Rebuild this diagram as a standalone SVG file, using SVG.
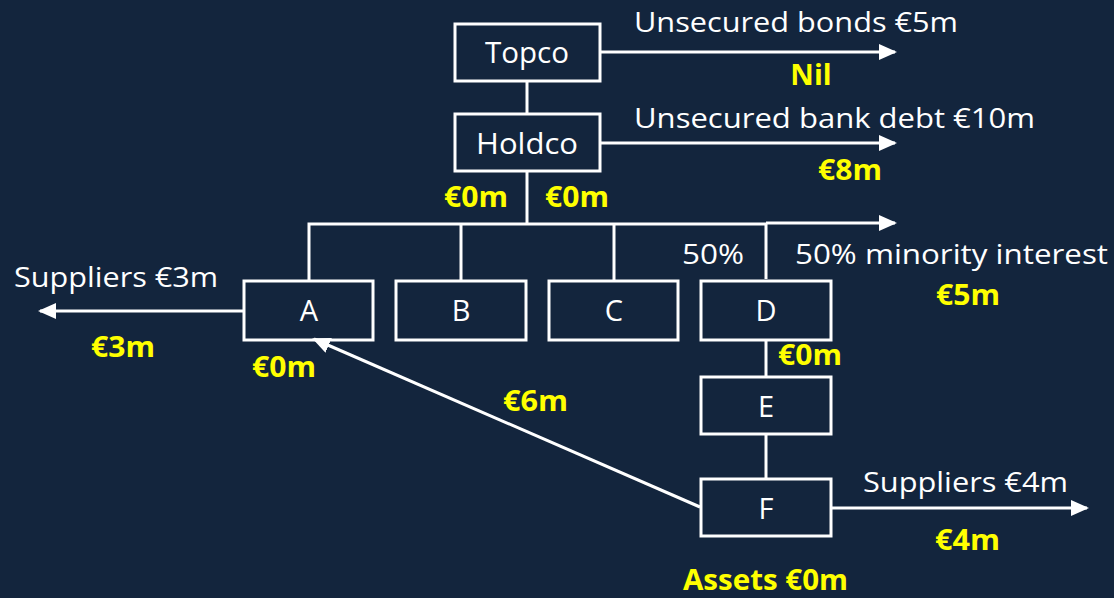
<svg xmlns="http://www.w3.org/2000/svg" width="1114" height="598" viewBox="0 0 1114 598">
  <style>
    .box { fill: none; stroke: #ffffff; stroke-width: 3; }
    .ln { fill: none; stroke: #ffffff; stroke-width: 3; }
    .t { font-family: "Open Sans", "Noto Sans", sans-serif; font-size: 28px; fill: #ffffff; }
    .n { font-family: "Open Sans", "Noto Sans", sans-serif; font-size: 29px; fill: #ffffff; text-anchor: middle; }
    .c { text-anchor: middle; }
    .y { font-family: "Open Sans", "Noto Sans", sans-serif; font-size: 29px; font-weight: bold; fill: #ffff00; }
  </style>
  <defs>
    <marker id="arrow" markerUnits="userSpaceOnUse" markerWidth="18" markerHeight="16" refX="16" refY="8" orient="auto">
      <path d="M0,0 L18,8 L0,16 Z" fill="#ffffff"/>
    </marker>
  </defs>
  <rect width="1114" height="598" fill="#13253d"/>

  <!-- connectors -->
  <g id="connectors">
    <line class="ln" x1="527" y1="81" x2="527" y2="114"/>
    <line class="ln" x1="527" y1="171" x2="527" y2="224"/>
    <path class="ln" d="M309,281 V224 H766 V279"/>
    <line class="ln" x1="461" y1="224" x2="461" y2="281"/>
    <line class="ln" x1="614" y1="224" x2="614" y2="281"/>
    <line class="ln" x1="766" y1="223" x2="895" y2="223" marker-end="url(#arrow)"/>
    <line class="ln" x1="766" y1="340" x2="766" y2="377"/>
    <line class="ln" x1="766" y1="434" x2="766" y2="479"/>
    <line class="ln" x1="601" y1="52" x2="895" y2="52" marker-end="url(#arrow)"/>
    <line class="ln" x1="601" y1="143" x2="895" y2="143" marker-end="url(#arrow)"/>
    <line class="ln" x1="244" y1="311" x2="40" y2="311" marker-end="url(#arrow)"/>
    <line class="ln" x1="832" y1="508" x2="1087" y2="508" marker-end="url(#arrow)"/>
    <line class="ln" x1="700" y1="507" x2="314" y2="339" marker-end="url(#arrow)"/>
  </g>

  <g id="topco">
    <rect class="box" x="455" y="24" width="145" height="57"/>
    <text class="n" x="527" y="63" textLength="84" lengthAdjust="spacingAndGlyphs">Topco</text>
  </g>
  <g id="holdco">
    <rect class="box" x="455" y="114" width="145" height="57"/>
    <text class="n" x="527" y="154" textLength="102" lengthAdjust="spacingAndGlyphs">Holdco</text>
  </g>
  <g id="a">
    <rect class="box" x="244" y="281" width="129" height="59"/>
    <text class="n" x="309" y="321">A</text>
  </g>
  <g id="b">
    <rect class="box" x="396" y="281" width="130" height="59"/>
    <text class="n" x="461" y="321">B</text>
  </g>
  <g id="c">
    <rect class="box" x="549" y="281" width="129" height="59"/>
    <text class="n" x="614" y="321">C</text>
  </g>
  <g id="d">
    <rect class="box" x="701" y="281" width="130" height="59"/>
    <text class="n" x="766" y="321">D</text>
  </g>
  <g id="e">
    <rect class="box" x="701" y="377" width="130" height="57"/>
    <text class="n" x="766" y="417">E</text>
  </g>
  <g id="f">
    <rect class="box" x="701" y="479" width="130" height="57"/>
    <text class="n" x="766" y="519">F</text>
  </g>

  <g id="labels">
    <text class="t" x="634" y="32" textLength="324" lengthAdjust="spacingAndGlyphs">Unsecured bonds €5m</text>
    <text class="y c" x="811" y="85">Nil</text>
    <text class="t" x="634" y="128" textLength="401" lengthAdjust="spacingAndGlyphs">Unsecured bank debt €10m</text>
    <text class="y" x="818" y="180" textLength="64" lengthAdjust="spacingAndGlyphs">€8m</text>
    <text class="y" x="444" y="207" textLength="64" lengthAdjust="spacingAndGlyphs">€0m</text>
    <text class="y" x="545" y="207" textLength="64" lengthAdjust="spacingAndGlyphs">€0m</text>
    <text class="t" x="14" y="287" textLength="204" lengthAdjust="spacingAndGlyphs">Suppliers €3m</text>
    <text class="y" x="91" y="357" textLength="64" lengthAdjust="spacingAndGlyphs">€3m</text>
    <text class="y" x="252" y="377" textLength="64" lengthAdjust="spacingAndGlyphs">€0m</text>
    <text class="t" x="682" y="264" textLength="62" lengthAdjust="spacingAndGlyphs">50%</text>
    <text class="t" x="795" y="264" textLength="313" lengthAdjust="spacingAndGlyphs">50% minority interest</text>
    <text class="y" x="936" y="305" textLength="64" lengthAdjust="spacingAndGlyphs">€5m</text>
    <text class="y" x="778" y="365" textLength="64" lengthAdjust="spacingAndGlyphs">€0m</text>
    <text class="y" x="503" y="411" textLength="65" lengthAdjust="spacingAndGlyphs">€6m</text>
    <text class="t" x="863" y="492" textLength="205" lengthAdjust="spacingAndGlyphs">Suppliers €4m</text>
    <text class="y" x="935" y="550" textLength="65" lengthAdjust="spacingAndGlyphs">€4m</text>
    <text class="y" x="683" y="590" textLength="165" lengthAdjust="spacingAndGlyphs">Assets €0m</text>
  </g>
</svg>
